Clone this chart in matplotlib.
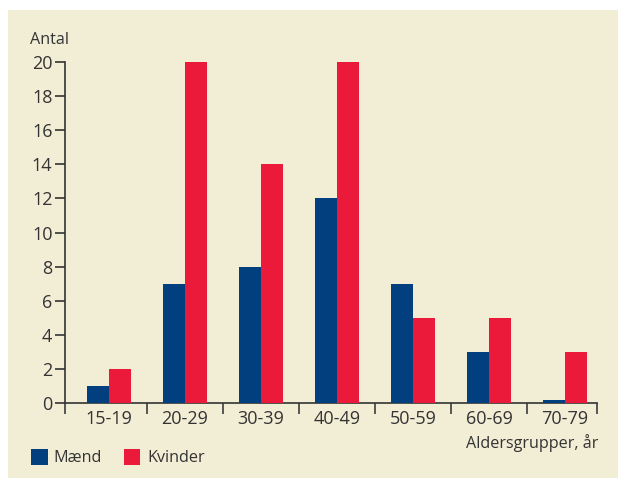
import matplotlib
matplotlib.use("Agg")
import matplotlib.pyplot as plt
from matplotlib.patches import Rectangle
import numpy as np

categories = ["15-19", "20-29", "30-39", "40-49", "50-59", "60-69", "70-79"]
maend = [1, 7, 8, 12, 7, 3, 0.2]
kvinder = [2, 20, 14, 20, 5, 5, 3]
yticks = list(range(0, 21, 2))

W, H = 619, 478
plt.rcParams['font.family'] = ['Open Sans', 'DejaVu Sans']
fig = plt.figure(figsize=(W / 100, H / 100), dpi=100)
fig.patch.set_facecolor("white")
bg = "#f2eed6"
fig.patches.append(Rectangle((8 / W, 0), 610 / W, 468 / H, transform=fig.transFigure,
                             facecolor=bg, edgecolor="none", zorder=-5))

ax = fig.add_axes([65 / W, (H - 403) / H, (597 - 65) / W, (403 - 62) / H])
ax.set_zorder(1)
ax.patch.set_alpha(0)

navy = "#023f7f"
red = "#ec1a3a"
txt = "#333333"
fs = 11.6
tfs = 13
x = np.arange(len(categories))
bw = 22 / 76
ax.bar(x - bw / 2, maend, width=bw, color=navy, zorder=3)
ax.bar(x + bw / 2, kvinder, width=bw, color=red, zorder=3)

ax.set_xlim(-44 / 76, 6 + 32 / 76)
ax.set_ylim(0, 20)
for s in ["top", "right"]:
    ax.spines[s].set_visible(False)
for s in ["left", "bottom"]:
    ax.spines[s].set_color("#333333")
    ax.spines[s].set_linewidth(1.2)

ax.set_yticks(yticks)
ax.set_yticklabels([str(v) for v in yticks], fontsize=tfs, color=txt)
ax.tick_params(axis="y", direction="out", length=7, width=1.2, color="#333333", pad=2)

ax.set_xticks(x)
ax.set_xticklabels(categories, fontsize=tfs, color=txt)
ax.tick_params(axis="x", which="major", length=0, pad=5)
for lab in ax.get_xticklabels():
    lab.set_x(lab.get_position()[0])
xl = ax.get_xlim()
ax.set_xticks([xl[0]] + [k + 0.5 for k in range(6)] + [xl[1]], minor=True)
ax.tick_params(axis="x", which="minor", direction="out", length=8, width=1.4, color="#555555")
ax.set_xlim(xl)

fig.text(30 / W, (H - 40) / H, "Antal", fontsize=fs, color=txt, ha="left", va="center")
fig.text(598 / W, (H - 443) / H, "Aldersgrupper, år", fontsize=fs, color=txt, ha="right", va="center")

fig.patches.append(Rectangle((31 / W, (H - 465) / H), 17 / W, 16 / H, transform=fig.transFigure,
                             facecolor=navy, edgecolor="none", zorder=2))
fig.text(53 / W, (H - 458) / H, "Mænd", fontsize=fs, color=txt, ha="left", va="center")
fig.patches.append(Rectangle((124 / W, (H - 465) / H), 16 / W, 16 / H, transform=fig.transFigure,
                             facecolor=red, edgecolor="none", zorder=2))
fig.text(147 / W, (H - 458) / H, "Kvinder", fontsize=fs, color=txt, ha="left", va="center")

fig.savefig("out.png", dpi=100, facecolor=fig.get_facecolor())
